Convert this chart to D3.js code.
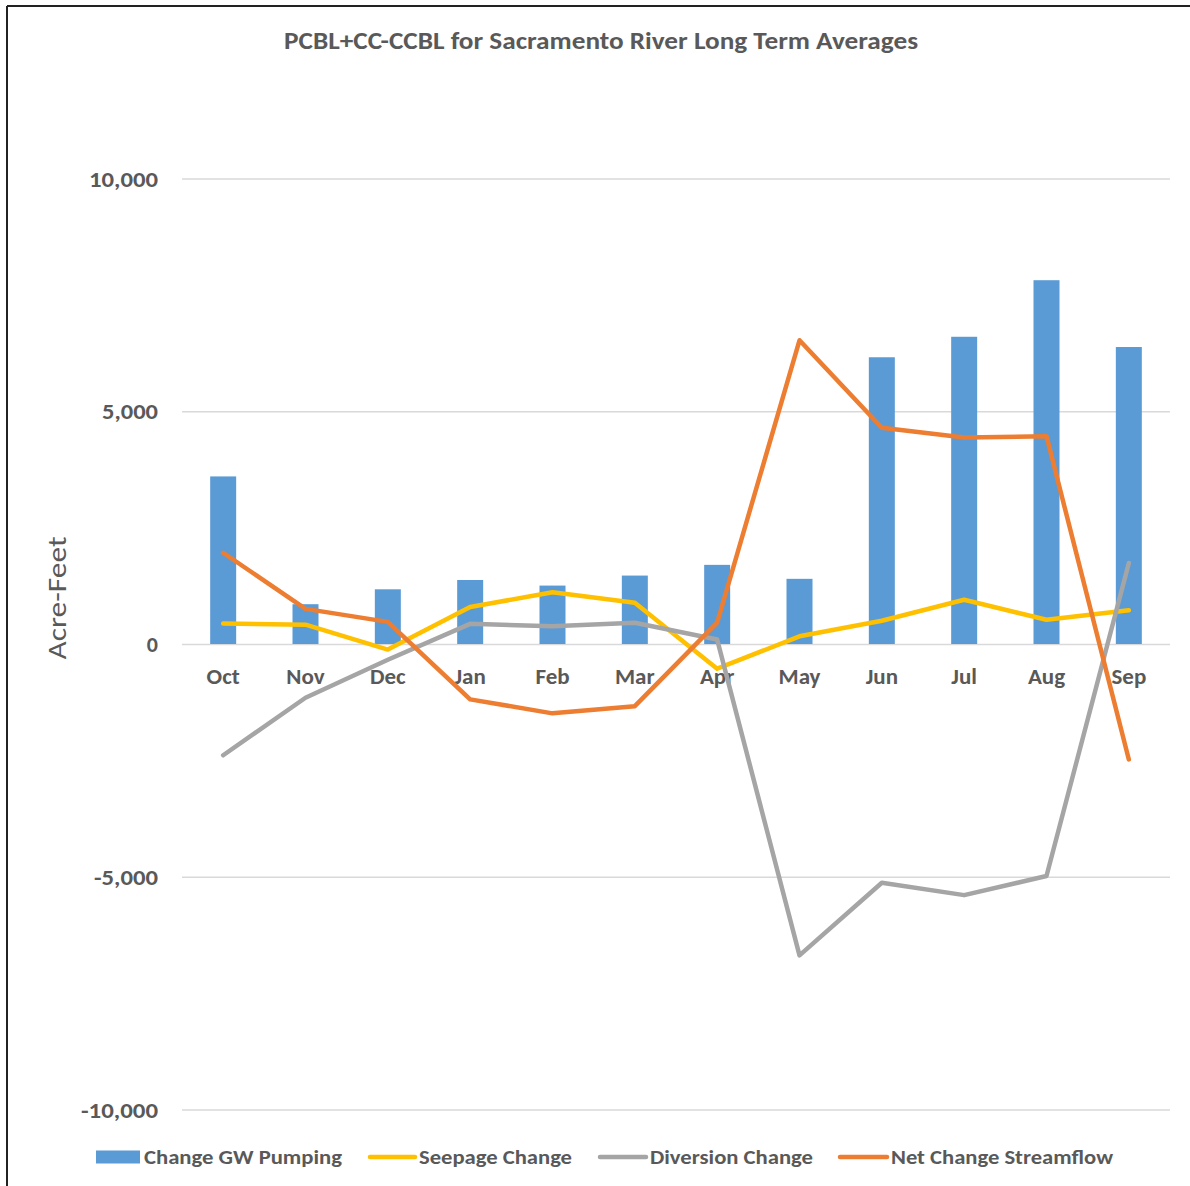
<!DOCTYPE html>
<html>
<head>
<meta charset="utf-8">
<script src="https://cdn.jsdelivr.net/npm/d3@7"></script>
<style>
  html, body { margin: 0; padding: 0; background: #fff; }
  svg { display: block; }
  text { font-family: Carlito, Calibri, "Open Sans", "Liberation Sans", sans-serif; fill: #595959; }
</style>
</head>
<body>
<svg id="chart" width="1190" height="1186"></svg>
<script>
const months = ["Oct","Nov","Dec","Jan","Feb","Mar","Apr","May","Jun","Jul","Aug","Sep"];
const gwPumping = [3600, 855, 1175, 1375, 1255, 1470, 1700, 1400, 6160, 6600, 7815, 6380];
const seepage   = [440, 415, -120, 795, 1110, 885, -530, 165, 500, 950, 520, 725];
const diversion = [-2390, -1155, -340, 433, 380, 455, 95, -6690, -5130, -5395, -4985, 1740];
const netFlow   = [1960, 755, 475, -1190, -1490, -1335, 460, 6525, 4645, 4435, 4465, -2480];
const yTicks = [-10000, -5000, 0, 5000, 10000];
const title = "PCBL+CC-CCBL for Sacramento River Long Term Averages";
const yTitle = "Acre-Feet";
const legendLabels = ["Change GW Pumping", "Seepage Change", "Diversion Change", "Net Change Streamflow"];
const colors = { bar: "#5b9bd5", seep: "#ffc000", div: "#a5a5a5", net: "#ed7d31" };

(function () {
const svg = d3.select("#chart");
const pLeft = 182, pRight = 1170, pTop = 178.5, pBottom = 1109.5;

// frame
svg.append("line").attr("x1", 7).attr("y1", 6).attr("x2", 1190).attr("y2", 6)
  .attr("stroke", "#222").attr("stroke-width", 2);
svg.append("line").attr("x1", 7).attr("y1", 6).attr("x2", 7).attr("y2", 1186)
  .attr("stroke", "#222").attr("stroke-width", 2);

const x = d3.scaleBand().domain(months).range([pLeft, pRight]).padding(0);
const y = d3.scaleLinear().domain([-10000, 10000]).range([pBottom, pTop]);

function fit(sel, w) {
  sel.each(function() {
    const l = this.getComputedTextLength();
    if (Math.abs(l - w) > 1) {
      d3.select(this).attr("textLength", w).attr("lengthAdjust", "spacingAndGlyphs");
    }
  });
}

// gridlines
svg.append("g").attr("transform", `translate(${pLeft},0)`)
  .call(d3.axisLeft(y).tickValues(yTicks).tickSize(-(pRight - pLeft)).tickFormat(""))
  .call(g => g.select(".domain").remove())
  .call(g => g.selectAll("line").attr("stroke", "#d9d9d9").attr("stroke-width", 1.3));

// y tick labels
const fmt = d3.formatLocale({ decimal: ".", thousands: ",", grouping: [3], currency: ["", ""], minus: "-" }).format(",");
const yAxis = svg.append("g").attr("transform", `translate(158,0)`)
  .call(d3.axisLeft(y).tickValues(yTicks).tickSize(0).tickPadding(0).tickFormat(fmt));
yAxis.select(".domain").remove();
yAxis.selectAll("text")
  .attr("font-size", 22).attr("font-weight", "bold").attr("fill", "#595959")
  .attr("font-family", "Carlito, Calibri, 'Open Sans', sans-serif")
  .attr("dy", "0.35em");
const tickWidths = { "10,000": 69, "5,000": 56, "0": 11, "-5,000": 64, "-10,000": 77 };
yAxis.selectAll("text").each(function(d) {
  const target = tickWidths[fmt(d)];
  if (target) fit(d3.select(this), target);
});

// y title
svg.append("text")
  .attr("transform", "translate(66,598) rotate(-90)")
  .attr("text-anchor", "middle")
  .attr("font-size", 27)
  .text(yTitle)
  .call(fit, 123);

// bars
svg.append("g").selectAll("rect").data(gwPumping).join("rect")
  .attr("x", (d, i) => x(months[i]) + x.bandwidth() / 2 - 13)
  .attr("width", 26)
  .attr("y", d => y(Math.max(0, d)))
  .attr("height", d => Math.abs(y(d) - y(0)))
  .attr("fill", colors.bar);

// x labels
const xAxis = svg.append("g").attr("transform", `translate(0,${y(0)})`)
  .call(d3.axisBottom(x).tickSize(0).tickPadding(0));
xAxis.select(".domain").remove();
xAxis.selectAll("text")
  .attr("font-size", 23).attr("font-weight", "bold").attr("fill", "#595959")
  .attr("font-family", "Carlito, Calibri, 'Open Sans', sans-serif")
  .attr("dy", null).attr("y", 40);

// lines
const line = d3.line().x((d, i) => x(months[i]) + x.bandwidth() / 2).y(d => y(d));
[[seepage, colors.seep], [diversion, colors.div], [netFlow, colors.net]].forEach(([data, c]) => {
  svg.append("path").datum(data)
    .attr("d", line).attr("fill", "none").attr("stroke", c)
    .attr("stroke-width", 4.5).attr("stroke-linejoin", "round").attr("stroke-linecap", "round");
});

// title
svg.append("text").attr("x", 601).attr("y", 49).attr("text-anchor", "middle")
  .attr("font-size", 24).attr("font-weight", "bold").text(title).call(fit, 634);

// legend
const leg = svg.append("g");
const legY = 1157;
leg.append("rect").attr("x", 96).attr("y", legY - 6.5).attr("width", 44).attr("height", 13).attr("fill", colors.bar);
const legItems = [
  { label: legendLabels[0], tx: 144, tw: 198 },
  { label: legendLabels[1], tx: 419, tw: 153, lx: [370, 415], c: colors.seep },
  { label: legendLabels[2], tx: 650, tw: 163, lx: [600, 646], c: colors.div },
  { label: legendLabels[3], tx: 891, tw: 222, lx: [840, 887], c: colors.net }
];
legItems.forEach(it => {
  if (it.lx) {
    leg.append("line").attr("x1", it.lx[0]).attr("x2", it.lx[1]).attr("y1", legY).attr("y2", legY)
      .attr("stroke", it.c).attr("stroke-width", 4.5).attr("stroke-linecap", "round");
  }
  leg.append("text").attr("x", it.tx).attr("y", legY).attr("dy", "0.35em")
    .attr("font-size", 21).attr("font-weight", "bold").text(it.label).call(fit, it.tw);
});
})();
</script>
</body>
</html>
